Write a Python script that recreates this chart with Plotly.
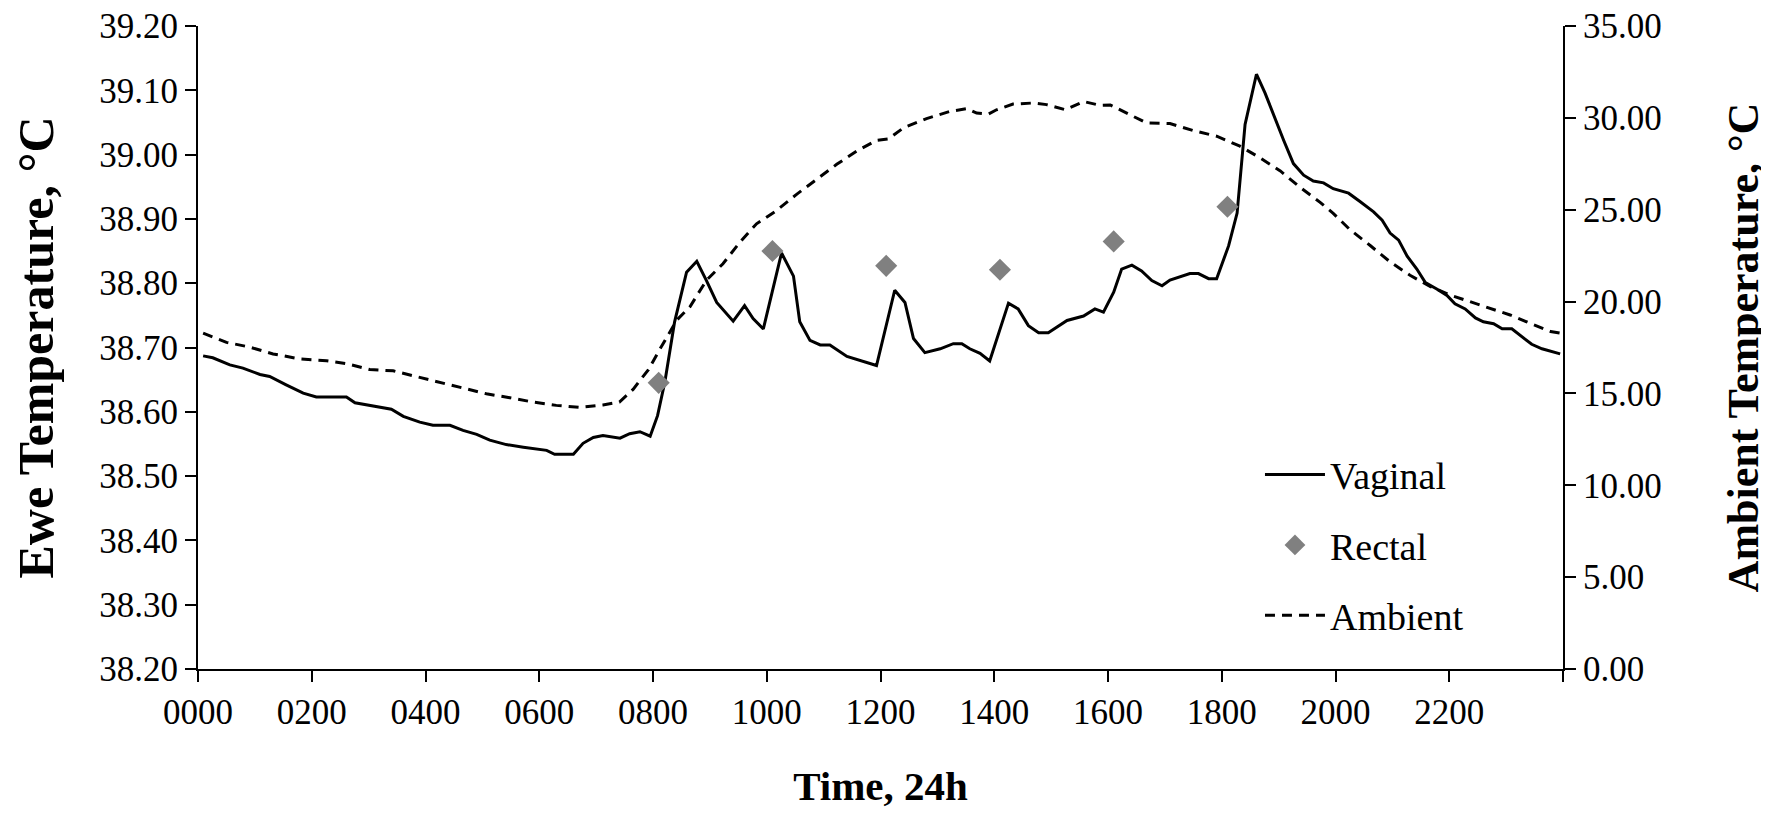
import plotly.graph_objects as go

# Time in hours (as plotted)
vag_time = [0.09, 0.26, 0.56, 0.79, 1.09, 1.26, 1.55, 1.85, 2.08, 2.61, 2.76, 3.08, 3.40, 3.61,
            3.90, 4.13, 4.43, 4.66, 4.90, 5.13, 5.42, 5.72, 5.98, 6.13, 6.27, 6.60, 6.77, 6.95,
            7.12, 7.42, 7.59, 7.77, 7.95, 8.08, 8.21, 8.38, 8.59, 8.77, 8.94, 9.12, 9.41, 9.61,
            9.76, 9.94, 10.26, 10.47, 10.58, 10.76, 10.94, 11.11, 11.41, 11.70, 11.93, 12.25,
            12.43, 12.58, 12.78, 13.05, 13.28, 13.43, 13.57, 13.75, 13.92, 14.25, 14.42, 14.60,
            14.78, 14.95, 15.28, 15.57, 15.77, 15.92, 16.10, 16.24, 16.42, 16.59, 16.77, 16.95,
            17.09, 17.44, 17.59, 17.77, 17.91, 18.12, 18.27, 18.41, 18.61, 18.76, 18.94, 19.09,
            19.26, 19.44, 19.61, 19.79, 19.96, 20.23, 20.43, 20.67, 20.82, 20.96, 21.11, 21.26,
            21.43, 21.58, 21.78, 21.96, 22.10, 22.28, 22.46, 22.60, 22.78, 22.93, 23.10, 23.28,
            23.45, 23.63, 23.81, 23.95]
vaginal = [38.687, 38.684, 38.673, 38.668, 38.658, 38.655, 38.642, 38.629, 38.623, 38.623, 38.614,
           38.609, 38.604, 38.593, 38.584, 38.579, 38.579, 38.571, 38.565, 38.556, 38.549, 38.545,
           38.542, 38.540, 38.534, 38.534, 38.551, 38.560, 38.563, 38.559, 38.566, 38.569, 38.562,
           38.594, 38.647, 38.740, 38.817, 38.834, 38.804, 38.770, 38.741, 38.765, 38.745, 38.729,
           38.847, 38.811, 38.740, 38.711, 38.704, 38.704, 38.686, 38.678, 38.672, 38.789, 38.770,
           38.714, 38.692, 38.698, 38.706, 38.706, 38.698, 38.691, 38.679, 38.769, 38.760, 38.734,
           38.723, 38.723, 38.742, 38.749, 38.760, 38.755, 38.786, 38.822, 38.828, 38.819, 38.804,
           38.796, 38.805, 38.815, 38.815, 38.807, 38.807, 38.858, 38.909, 39.047, 39.125, 39.096,
           39.055, 39.022, 38.986, 38.968, 38.959, 38.956, 38.947, 38.940, 38.927, 38.911, 38.898,
           38.878, 38.867, 38.842, 38.822, 38.801, 38.791, 38.781, 38.768, 38.760, 38.746, 38.740,
           38.737, 38.729, 38.729, 38.716, 38.705, 38.698, 38.694, 38.690]

rect_time = [8.1, 10.1, 12.1, 14.1, 16.1, 18.1]
rectal = [38.645, 38.850, 38.827, 38.821, 38.865, 38.919]

amb_time = [0.09, 0.50, 0.91, 1.32, 1.79, 2.26, 2.61, 3.02, 3.43, 3.90, 4.25, 4.66, 5.07, 5.48,
            5.89, 6.30, 6.71, 7.12, 7.41, 7.65, 7.92, 8.12, 8.42, 8.65, 8.94, 9.23, 9.53, 9.82,
            10.17, 10.53, 10.88, 11.23, 11.58, 11.93, 12.14, 12.40, 12.81, 13.22, 13.52, 13.69,
            13.90, 14.04, 14.33, 14.69, 14.92, 15.25, 15.57, 15.86, 16.04, 16.27, 16.68, 17.09,
            17.50, 17.91, 18.32, 18.67, 19.03, 19.38, 19.73, 19.96, 20.26, 20.61, 20.96, 21.31,
            21.67, 22.02, 22.37, 22.72, 23.07, 23.42, 23.78, 23.95]
ambient = [18.28, 17.78, 17.52, 17.15, 16.88, 16.78, 16.62, 16.30, 16.23, 15.88, 15.61, 15.31,
           14.98, 14.77, 14.53, 14.35, 14.24, 14.37, 14.53, 15.22, 16.30, 17.40, 19.00, 19.72,
           21.16, 22.06, 23.24, 24.23, 24.95, 25.85, 26.66, 27.47, 28.19, 28.77, 28.85, 29.45,
           29.96, 30.35, 30.50, 30.26, 30.21, 30.44, 30.75, 30.81, 30.72, 30.44, 30.89, 30.68,
           30.70, 30.35, 29.72, 29.69, 29.31, 29.00, 28.46, 27.83, 27.11, 26.21, 25.40, 24.80,
           23.90, 23.05, 22.16, 21.43, 20.81, 20.35, 20.00, 19.63, 19.27, 18.82, 18.37, 18.28]

x_tickvals = [0, 2, 4, 6, 8, 10, 12, 14, 16, 18, 20, 22, 24]
x_ticktext = ["0000", "0200", "0400", "0600", "0800", "1000", "1200", "1400", "1600",
              "1800", "2000", "2200", ""]

FONT = "Liberation Serif, Times New Roman, serif"

fig = go.Figure()
fig.add_trace(go.Scatter(x=vag_time, y=vaginal, mode="lines", name="Vaginal",
                         line=dict(color="black", width=3), legendgroup="a"))
fig.add_trace(go.Scatter(x=rect_time, y=rectal, mode="markers", name="Rectal",
                         marker=dict(symbol="diamond", size=17, color="#808080"),
                         legendgroup="b"))
fig.add_trace(go.Scatter(x=amb_time, y=ambient, mode="lines", name="Ambient", yaxis="y2",
                         line=dict(color="black", width=3, dash="10px,7px"),
                         legendgroup="c"))

axis_common = dict(showline=True, linecolor="black", linewidth=2, ticks="outside",
                   ticklen=11, tickwidth=1.5, tickcolor="black", showgrid=False,
                   zeroline=False, tickfont=dict(family=FONT, size=35),
                   ticklabeloverflow="allow", automargin=False)

fig.update_layout(
    width=1769, height=814,
    margin=dict(l=190, r=214, t=18, b=153),
    plot_bgcolor="white", paper_bgcolor="white",
    font=dict(family=FONT, size=35, color="black"),
    showlegend=True,
    legend=dict(x=0.778, y=0.351, xanchor="left", yanchor="top",
                font=dict(family=FONT, size=38), tracegroupgap=18,
                traceorder="grouped", bgcolor="rgba(0,0,0,0)", itemwidth=60),
    xaxis=dict(range=[0, 24], tickvals=x_tickvals, ticktext=x_ticktext,
               title=dict(text="<b>Time, 24h</b>", font=dict(family=FONT, size=41), standoff=40),
               **axis_common),
    yaxis=dict(range=[38.2, 39.2], dtick=0.1, tickformat=".2f",
               title=dict(text="<b>Ewe Temperature, °C</b>", font=dict(family=FONT, size=50),
                          standoff=34),
               **axis_common),
    yaxis2=dict(range=[0, 35], dtick=5, tickformat=".2f", overlaying="y", side="right",
                title=dict(text="<b>Ambient Temperature, °C</b>", font=dict(family=FONT, size=44),
                           standoff=66),
                **axis_common),
)

fig.write_html("out.html")
